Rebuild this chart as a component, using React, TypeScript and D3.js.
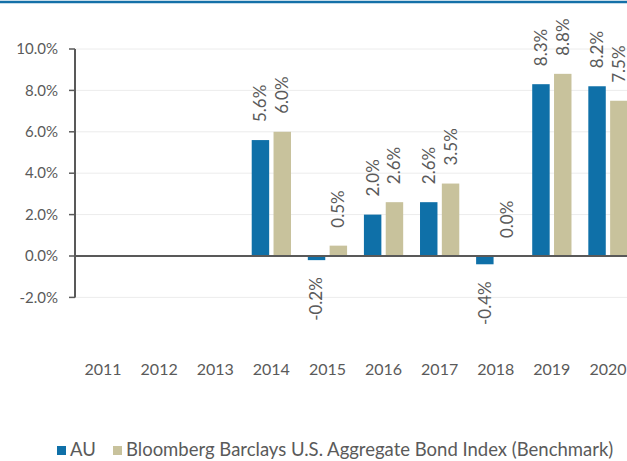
import React from "react";
import * as d3 from "d3";

const years = ["2011", "2012", "2013", "2014", "2015", "2016", "2017", "2018", "2019", "2020"];
const auValues: (number | null)[] = [null, null, null, 5.6, -0.2, 2.0, 2.6, -0.4, 8.3, 8.2];
const benchValues: (number | null)[] = [null, null, null, 6.0, 0.5, 2.6, 3.5, 0.0, 8.8, 7.5];
const seriesNames = ["AU", "Bloomberg Barclays U.S. Aggregate Bond Index (Benchmark)"];
const yTicks = [-2, 0, 2, 4, 6, 8, 10];

const W = 627, H = 461;
const FONT = "Lato, 'Open Sans', sans-serif";
const TEXT = "#5a5a5a";
const colors = ["#0f70a8", "#c8c29c"];
const fmt = (v: number) => d3.format(".1f")(v).replace("\u2212", "-") + "%";

export default function App() {
  const x0 = d3.scaleBand<string>().domain(years).range([75, 636]).paddingInner(0.3).paddingOuter(0.15);
  const x1 = d3.scaleBand<string>().domain(["0", "1"]).range([0, x0.bandwidth()]).paddingInner(0.2);
  const y = d3.scaleLinear().domain([-2, 10]).range([297.4, 49]);
  const series = [auValues, benchValues];

  return (
    <svg width={W} height={H} style={{ position: "fixed", left: 0, top: 0, background: "#fff" }} fontFamily={FONT}>
      <rect x={0} y={0} width={W} height={H} fill="#fff" />
      <line x1={0} x2={W} y1={2} y2={2} stroke="#1470a8" strokeWidth={2.5} />
      {yTicks.map((t) => (
        <g key={t}>
          {t !== 0 && <line x1={75} x2={W} y1={y(t)} y2={y(t)} stroke="#ececec" strokeWidth={1} />}
          <line x1={69} x2={75} y1={y(t)} y2={y(t)} stroke="#595959" strokeWidth={1.5} />
          <text x={58} y={y(t)} dy="0.35em" textAnchor="end" fontSize={15} fill={TEXT}>
            {fmt(t)}
          </text>
        </g>
      ))}
      {years.map((yr, i) =>
        series.map((vals, s) => {
          const v = vals[i];
          if (v === null) return null;
          const bx = (x0(yr) as number) + (x1(String(s)) as number);
          const bw = x1.bandwidth();
          const top = Math.min(y(v), y(0));
          const h = Math.abs(y(v) - y(0));
          const cx = bx + bw / 2;
          const ly = v >= 0 ? y(v) - 18 : y(v) + 17;
          return (
            <g key={yr + s}>
              <rect x={bx} y={top} width={bw} height={Math.max(h, 0)} fill={colors[s]} />
              <text
                transform={`translate(${cx},${ly}) rotate(-90)`}
                textAnchor={v >= 0 ? "start" : "end"}
                dy="0.35em"
                fontSize={17}
                fill={TEXT}
              >
                {fmt(v)}
              </text>
            </g>
          );
        })
      )}
      <line x1={75} x2={W} y1={y(0)} y2={y(0)} stroke="#595959" strokeWidth={2} />
      <line x1={75} x2={75} y1={y(10)} y2={y(-2)} stroke="#595959" strokeWidth={2} />
      {years.map((yr) => (
        <text key={yr} x={(x0(yr) as number) + x0.bandwidth() / 2} y={375} textAnchor="middle" fontSize={16} fill={TEXT}>
          {yr}
        </text>
      ))}
      <g>
        <rect x={57} y={446} width={9} height={9} fill={colors[0]} />
        <text x={70} y={456} fontSize={18.5} fill={TEXT}>{seriesNames[0]}</text>
        <rect x={113} y={446} width={9} height={9} fill={colors[1]} />
        <text x={126} y={456} fontSize={18.5} fill={TEXT}>{seriesNames[1]}</text>
      </g>
    </svg>
  );
}
